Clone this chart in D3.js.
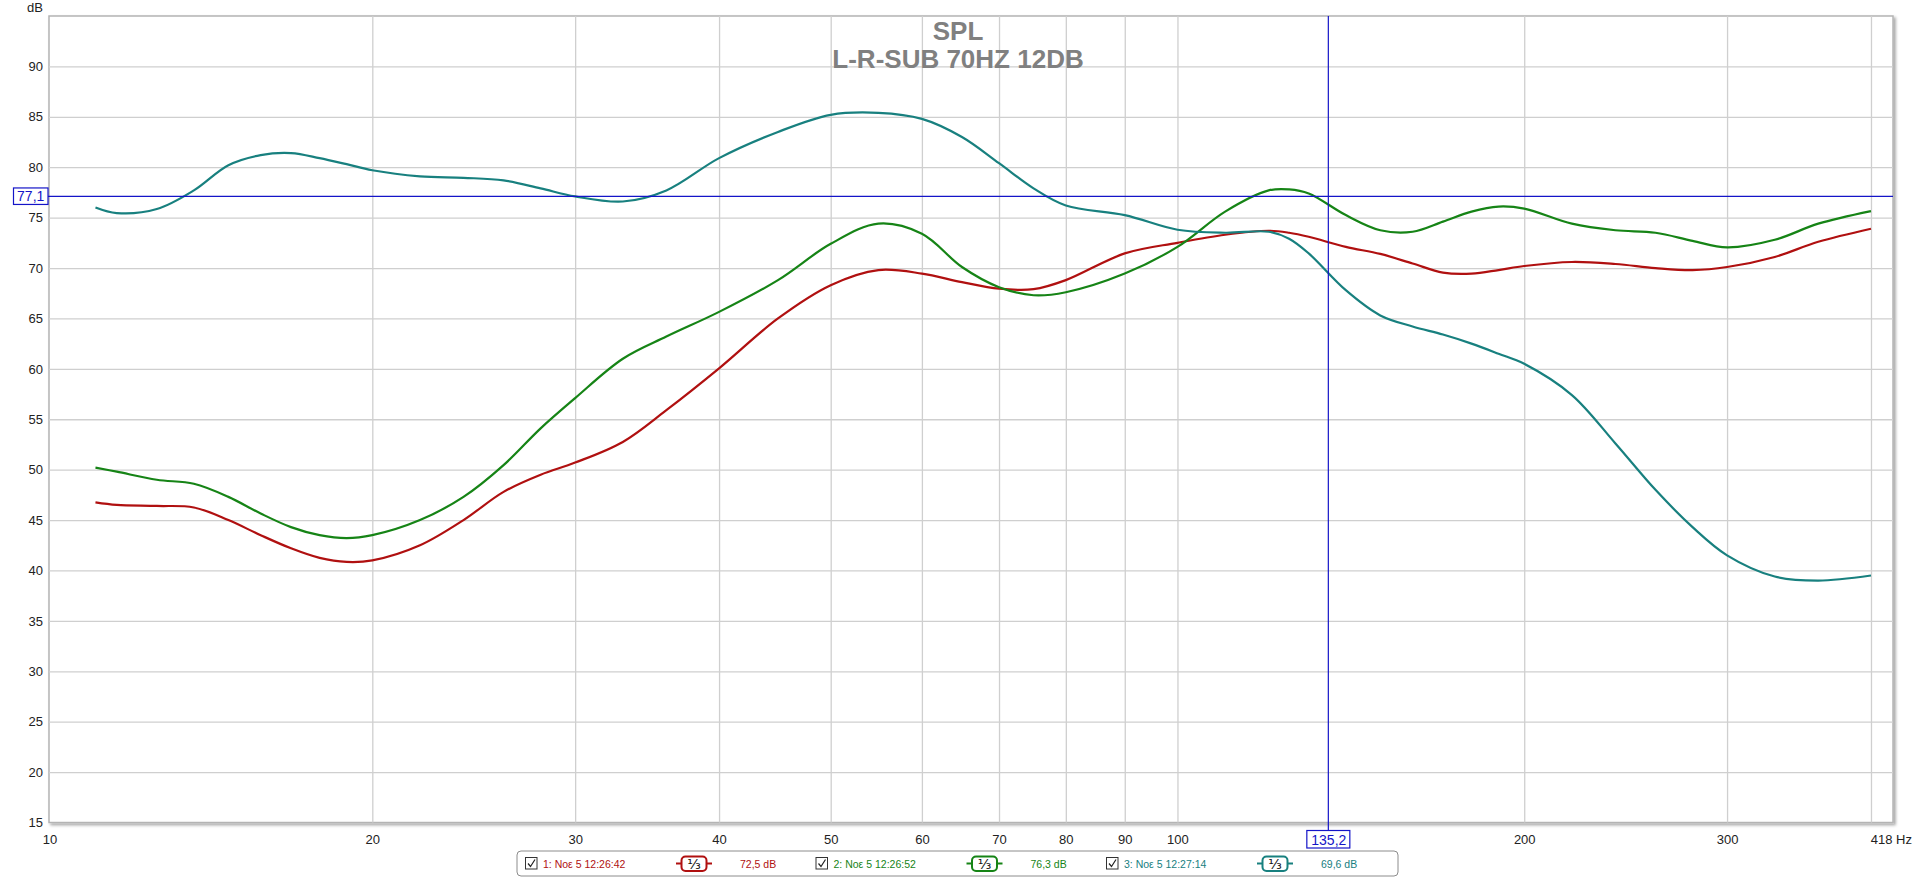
<!DOCTYPE html>
<html>
<head>
<meta charset="utf-8">
<script src="https://cdn.jsdelivr.net/npm/d3@7"></script>
<style>
  body { margin: 0; background: #fff; }
  svg { display: block; font-family: 'Liberation Sans', Arial, sans-serif; }
</style>
</head>
<body>
<svg id="chart" width="1916" height="878"></svg>
<script>
const freqHz = [11.5, 12, 13, 14, 15, 16, 17, 18, 19, 20, 22, 24, 26, 28, 30, 33, 36, 40, 45, 50,
  55, 60, 65, 70, 75, 80, 90, 100, 110, 120, 125, 130, 140, 150, 160, 170, 180, 190, 200,
  220, 240, 260, 280, 300, 330, 360, 400];

const splRed = [46.75, 46.5, 46.4, 46.25, 45.0, 43.5, 42.2, 41.25, 40.85, 41.0, 42.5, 45.0, 47.8, 49.5,
  50.7, 52.75, 55.9, 60.05, 65.0, 68.3, 69.8, 69.45, 68.6, 67.95, 67.9, 68.8, 71.45, 72.5, 73.3,
  73.7, 73.5, 73.1, 72.1, 71.4, 70.45, 69.55, 69.45, 69.8, 70.2, 70.6, 70.4, 70.0, 69.8, 70.1,
  71.1, 72.6, 73.9];

const splGreen = [50.2, 49.8, 49.0, 48.6, 47.3, 45.65, 44.3, 43.5, 43.2, 43.5, 45.0, 47.3, 50.45, 54.1,
  57.1, 61.0, 63.2, 65.65, 68.8, 72.4, 74.4, 73.4, 70.1, 68.1, 67.3, 67.6, 69.45, 72.1, 75.6,
  77.7, 77.8, 77.4, 75.25, 73.75, 73.6, 74.6, 75.6, 76.1, 75.9, 74.4, 73.75, 73.5, 72.7, 72.05,
  72.8, 74.4, 75.65];

const splTeal = [76.0, 75.45, 75.85, 77.7, 80.2, 81.2, 81.4, 80.9, 80.3, 79.7, 79.1, 78.95, 78.7, 77.9,
  77.1, 76.6, 77.7, 80.9, 83.5, 85.2, 85.4, 84.8, 83.0, 80.4, 77.9, 76.2, 75.25, 73.8, 73.5,
  73.6, 72.9, 71.45, 67.8, 65.3, 64.2, 63.4, 62.5, 61.5, 60.5, 57.4, 52.6, 48.0, 44.3, 41.5,
  39.4, 39.0, 39.5];

const seriesNames = ['1: Noε 5 12:26:42', '2: Noε 5 12:26:52', '3: Noε 5 12:27:14'];
const cursorReadout = ['72,5 dB', '76,3 dB', '69,6 dB'];
const seriesColors = ['#b01010', '#168416', '#18807f'];

const yTicks = [15, 20, 25, 30, 35, 40, 45, 50, 55, 60, 65, 70, 75, 80, 85, 90];
const xTicks = [20, 30, 40, 50, 60, 70, 80, 90, 100, 200, 300];
const xGrid = [20, 30, 40, 50, 60, 70, 80, 90, 100, 200, 300, 400];
const xRange = [10.48, 418];
const yRange = [15, 95];
const titleLines = ['SPL', 'L-R-SUB 70HZ 12DB'];
const cursorHz = 135.2, cursorDb = 77.1;

const svg = d3.select('#chart');
const plot = { left: 49, top: 16, right: 1893, bottom: 822.5 };
const cursorColor = '#1414c8';

const x = d3.scaleLog().domain(xRange).range([plot.left, plot.right]);
const y = d3.scaleLinear().domain(yRange).range([plot.bottom, plot.top]);

// Frame shadow
const defs = svg.append('defs');
defs.append('filter')
    .attr('id', 'shadow')
    .attr('x', '-2%').attr('y', '-2%').attr('width', '104%').attr('height', '104%')
  .append('feDropShadow')
    .attr('dx', 2).attr('dy', 2)
    .attr('stdDeviation', 1.5)
    .attr('flood-color', '#000')
    .attr('flood-opacity', 0.35);

svg.append('rect')
    .attr('x', plot.left).attr('y', plot.top)
    .attr('width', plot.right - plot.left)
    .attr('height', plot.bottom - plot.top)
    .attr('fill', '#fff')
    .attr('stroke', '#b4b4b4')
    .attr('stroke-width', 1.5)
    .attr('filter', 'url(#shadow)');

// Grid
svg.append('g')
    .attr('transform', `translate(0,${plot.bottom})`)
    .call(d3.axisBottom(x).tickValues(xGrid)
      .tickSize(-(plot.bottom - plot.top)).tickFormat(''))
    .call(g => g.select('.domain').remove())
    .call(g => g.selectAll('line').attr('stroke', '#cfcfcf').attr('stroke-width', 1.3));

svg.append('g')
    .attr('transform', `translate(${plot.left},0)`)
    .call(d3.axisLeft(y).tickValues(yTicks.filter(d => d > yRange[0]))
      .tickSize(-(plot.right - plot.left)).tickFormat(''))
    .call(g => g.select('.domain').remove())
    .call(g => g.selectAll('line').attr('stroke', '#cfcfcf').attr('stroke-width', 1.3));

// Axis labels
svg.append('g')
    .attr('transform', `translate(${plot.left},0)`)
    .call(d3.axisLeft(y).tickValues(yTicks).tickSize(0).tickPadding(6))
    .call(g => g.select('.domain').remove())
    .call(g => g.selectAll('text')
      .attr('font-size', 13).attr('font-family', 'Liberation Sans, Arial, sans-serif').attr('fill', '#222'));

svg.append('g')
    .attr('transform', `translate(0,${plot.bottom})`)
    .call(d3.axisBottom(x).tickValues(xTicks).tickFormat(d3.format('d')).tickSize(0).tickPadding(12))
    .call(g => g.select('.domain').remove())
    .call(g => g.selectAll('text')
      .attr('font-size', 13).attr('font-family', 'Liberation Sans, Arial, sans-serif').attr('fill', '#222'));

svg.append('text')
    .attr('x', x(xRange[0]) + 1).attr('y', 844)
    .attr('text-anchor', 'middle')
    .attr('font-size', 13).attr('fill', '#222')
    .text('10');

svg.append('text')
    .attr('x', x(xRange[1]) + 19).attr('y', 844)
    .attr('text-anchor', 'end')
    .attr('font-size', 13).attr('fill', '#222')
    .text(`${xRange[1]} Hz`);

svg.append('text')
    .attr('x', 43).attr('y', 12)
    .attr('text-anchor', 'end')
    .attr('font-size', 13).attr('fill', '#222')
    .text('dB');

// Title
svg.append('g')
    .selectAll('text')
    .data(titleLines)
    .join('text')
      .attr('x', 958)
      .attr('y', (d, i) => 40 + i * 27.7)
      .attr('text-anchor', 'middle')
      .attr('font-size', 26)
      .attr('font-weight', 'bold')
      .attr('fill', '#808080')
      .text(d => d);

// Curves
const seriesData = [splRed, splGreen, splTeal].map(vals => vals.map((v, i) => [freqHz[i], v]));

const line = d3.line()
    .x(d => x(d[0]))
    .y(d => y(d[1]))
    .curve(d3.curveCatmullRom.alpha(0.5));

svg.append('g')
    .selectAll('path')
    .data(seriesData)
    .join('path')
      .attr('d', line)
      .attr('fill', 'none')
      .attr('stroke', (d, i) => seriesColors[i])
      .attr('stroke-width', 2.2)
      .attr('stroke-linejoin', 'round');

// Cursor lines and readouts
const cx = x(cursorHz), cy = y(cursorDb);

svg.append('line')
    .attr('x1', cx).attr('x2', cx)
    .attr('y1', plot.top).attr('y2', 830)
    .attr('stroke', cursorColor).attr('stroke-width', 1.2);

svg.append('line')
    .attr('x1', 48).attr('x2', plot.right)
    .attr('y1', cy).attr('y2', cy)
    .attr('stroke', cursorColor).attr('stroke-width', 1.2);

svg.append('rect')
    .attr('x', 13.5).attr('y', cy - 8.5)
    .attr('width', 34.5).attr('height', 16.5)
    .attr('fill', '#fff')
    .attr('stroke', cursorColor).attr('stroke-width', 1.2);

svg.append('text')
    .attr('x', 30.7).attr('y', cy + 5)
    .attr('text-anchor', 'middle')
    .attr('font-size', 14).attr('fill', cursorColor)
    .text(String(cursorDb).replace('.', ','));

svg.append('rect')
    .attr('x', cx - 21.5).attr('y', 830.5)
    .attr('width', 43).attr('height', 17.5)
    .attr('fill', '#fff')
    .attr('stroke', cursorColor).attr('stroke-width', 1.2);

svg.append('text')
    .attr('x', cx + 0.5).attr('y', 844.5)
    .attr('text-anchor', 'middle')
    .attr('font-size', 14).attr('fill', cursorColor)
    .text(String(cursorHz).replace('.', ','));

// Legend
const legend = svg.append('g');

legend.append('rect')
    .attr('x', 517).attr('y', 851)
    .attr('width', 881).attr('height', 25)
    .attr('rx', 4)
    .attr('fill', '#fff')
    .attr('stroke', '#8c8c8c');

const item = legend.selectAll('g')
    .data(seriesNames)
    .join('g')
      .attr('transform', (d, i) => `translate(${525.5 + i * 290.5},863.5)`);

item.append('rect')
    .attr('x', 0).attr('y', -6)
    .attr('width', 11.5).attr('height', 11.5)
    .attr('fill', '#fff')
    .attr('stroke', '#333');

item.append('path')
    .attr('d', 'M2.5 0 L5 3 L9.5 -4')
    .attr('fill', 'none')
    .attr('stroke', '#222')
    .attr('stroke-width', 1.2);

item.append('text')
    .attr('x', 17.5).attr('y', 4)
    .attr('font-size', 10.5)
    .attr('fill', (d, i) => seriesColors[i])
    .text(d => d);

item.append('line')
    .attr('x1', 150.5).attr('x2', 186.5)
    .attr('y1', 0).attr('y2', 0)
    .attr('stroke', (d, i) => seriesColors[i])
    .attr('stroke-width', 2);

item.append('rect')
    .attr('x', 156).attr('y', -7)
    .attr('width', 25).attr('height', 14.5)
    .attr('rx', 4)
    .attr('fill', '#fff')
    .attr('stroke', (d, i) => seriesColors[i])
    .attr('stroke-width', 2);

item.append('text')
    .attr('x', 168.5).attr('y', 5)
    .attr('text-anchor', 'middle')
    .attr('font-size', 14)
    .attr('font-family', 'DejaVu Sans, sans-serif')
    .attr('fill', '#111')
    .text('⅓');

item.append('text')
    .attr('x', 214.5).attr('y', 4)
    .attr('font-size', 10.5)
    .attr('fill', (d, i) => seriesColors[i])
    .text((d, i) => cursorReadout[i]);
</script>
</body>
</html>
